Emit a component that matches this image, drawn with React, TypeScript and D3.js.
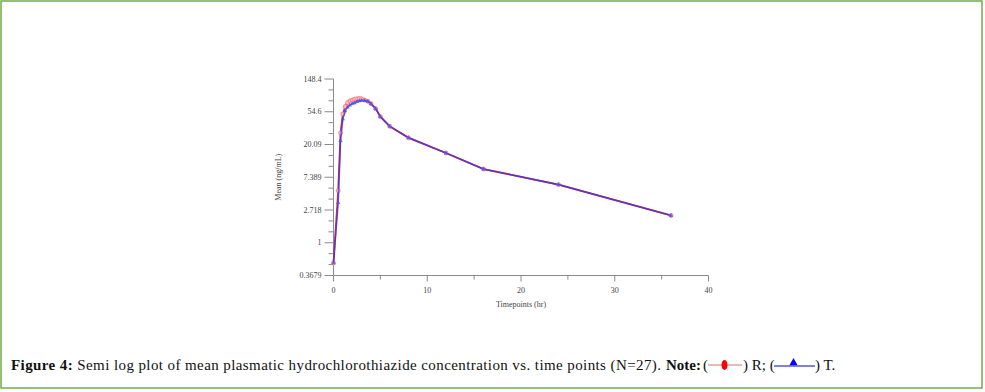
import React from "react";
import * as d3 from "d3";

const times = [0, 0.5, 0.75, 1, 1.25, 1.5, 1.75, 2, 2.25, 2.5, 2.75, 3, 3.33, 3.67, 4, 4.5, 5, 6, 8, 12, 16, 24, 36];
const seriesR = [0.54, 4.9, 28.6, 51, 64, 72, 76, 78, 80, 81, 82, 81, 78, 75, 70, 60, 47, 35, 24.6, 15.5, 9.5, 5.9, 2.3];
const seriesT = [0.54, 3.4, 22.6, 44, 56, 63, 67, 70, 72, 74.5, 76, 77.5, 77, 75, 70, 60, 47, 35, 24.8, 15.5, 9.5, 5.9, 2.3];
const yTickValues = [Math.exp(-1), 1, Math.exp(1), Math.exp(2), Math.exp(3), Math.exp(4), Math.exp(5)];
const yTickLabels = ["0.3679", "1", "2.718", "7.389", "20.09", "54.6", "148.4"];
const xTicks = [0, 10, 20, 30, 40];
const xMinorTicks = [5, 15, 25, 35];

export default function App() {
  const x = d3.scaleLinear().domain([0, 40]).range([333.5, 708.5]);
  const y = d3.scaleLog().base(Math.E).domain([Math.exp(-1), Math.exp(5)]).range([275.5, 79]);
  const line = d3
    .line<[number, number]>()
    .x((d) => x(d[0]))
    .y((d) => y(d[1]))
    .curve(d3.curveLinear);
  const rPts: [number, number][] = times.map((t, i) => [t, seriesR[i]]);
  const tPts: [number, number][] = times.map((t, i) => [t, seriesT[i]]);
  const yMinor: number[] = [];
  for (let k = -1; k < 5; k++) {
    yMinor.push(Math.exp(k + 1 / 3), Math.exp(k + 2 / 3));
  }
  const axisColor = "#8a8a8a";
  const tickFont = "Liberation Serif, serif";
  const tri = (cx: number, cy: number, s: number) =>
    `M${cx},${cy - s}L${cx + s * 0.9},${cy + s * 0.6}L${cx - s * 0.9},${cy + s * 0.6}Z`;

  return (
    <svg width={985} height={392} style={{ position: "absolute", left: 0, top: 0, background: "#fff" }}>
      <rect x={1} y={1} width={981} height={387} fill="none" stroke="#70ad47" strokeWidth={1.5} />
      {/* axes */}
      <g fill={axisColor} stroke={axisColor}>
        <line x1={x(0)} x2={x(0)} y1={y(Math.exp(5))} y2={y(Math.exp(-1))} strokeWidth={1} />
        <line x1={x(0)} x2={x(40)} y1={y(Math.exp(-1))} y2={y(Math.exp(-1))} strokeWidth={1} />
        {yTickValues.map((v) => (
          <line key={"ym" + v} x1={x(0) - 9} x2={x(0)} y1={y(v)} y2={y(v)} strokeWidth={1} />
        ))}
        {yMinor.map((v) => (
          <line key={"yn" + v} x1={x(0) - 5} x2={x(0)} y1={y(v)} y2={y(v)} strokeWidth={1} />
        ))}
        {xTicks.map((v) => (
          <line key={"xm" + v} x1={x(v)} x2={x(v)} y1={y(Math.exp(-1))} y2={y(Math.exp(-1)) + 6} strokeWidth={1} />
        ))}
        {xMinorTicks.map((v) => (
          <line key={"xn" + v} x1={x(v)} x2={x(v)} y1={y(Math.exp(-1))} y2={y(Math.exp(-1)) + 4} strokeWidth={1} />
        ))}
      </g>
      <g fontFamily={tickFont} fontSize={8} fill="#444">
        {yTickValues.map((v, i) => (
          <text key={"yl" + i} x={x(0) - 12} y={y(v)} dy="0.33em" textAnchor="end">
            {yTickLabels[i]}
          </text>
        ))}
        {xTicks.map((v) => (
          <text key={"xl" + v} x={x(v)} y={y(Math.exp(-1)) + 17} textAnchor="middle">
            {v}
          </text>
        ))}
        <text x={(x(0) + x(40)) / 2} y={307} textAnchor="middle">
          Timepoints (hr)
        </text>
        <text transform={`translate(281,${(y(Math.exp(5)) + y(Math.exp(-1))) / 2}) rotate(-90)`} textAnchor="middle">
          Mean (ng/mL)
        </text>
      </g>
      {/* series */}
      <path d={line(rPts) || ""} fill="none" stroke="#e0302c" strokeWidth={1.8} />
      {rPts.map((d, i) => (
        <circle key={"rc" + i} cx={x(d[0])} cy={y(d[1])} r={2} fill="#f8c0c0" stroke="#f07070" strokeWidth={0.8} />
      ))}
      <path d={line(tPts) || ""} fill="none" stroke="#3030f0" strokeWidth={1.6} strokeOpacity={0.72} />
      {tPts.map((d, i) => (
        <path key={"tt" + i} d={tri(x(d[0]), y(d[1]), 2.4)} fill="#4a4af0" fillOpacity={0.75} />
      ))}
      {/* caption */}
      <g fontFamily="Liberation Serif, serif" fontSize={15} fill="#111">
        <text x={11} y={370} textLength={650} lengthAdjust="spacing">
          <tspan fontWeight="bold">Figure 4:</tspan> Semi log plot of mean plasmatic hydrochlorothiazide concentration vs. time points (N=27).
        </text>
        <text x={666} y={370} fontWeight="bold">Note:</text>
        <text x={703} y={370}>(</text>
        <line x1={708} x2={742} y1={365} y2={365} stroke="#c77" strokeWidth={1} />
        <ellipse cx={724.5} cy={365} rx={3} ry={5} fill="#f00" />
        <text x={743} y={370}>) R; (</text>
        <line x1={774} x2={815} y1={366} y2={366} stroke="#00c" strokeWidth={1.2} />
        <path d={tri(793.5, 362.5, 4.5)} fill="#00f" />
        <text x={815} y={370}>) T.</text>
      </g>
    </svg>
  );
}
